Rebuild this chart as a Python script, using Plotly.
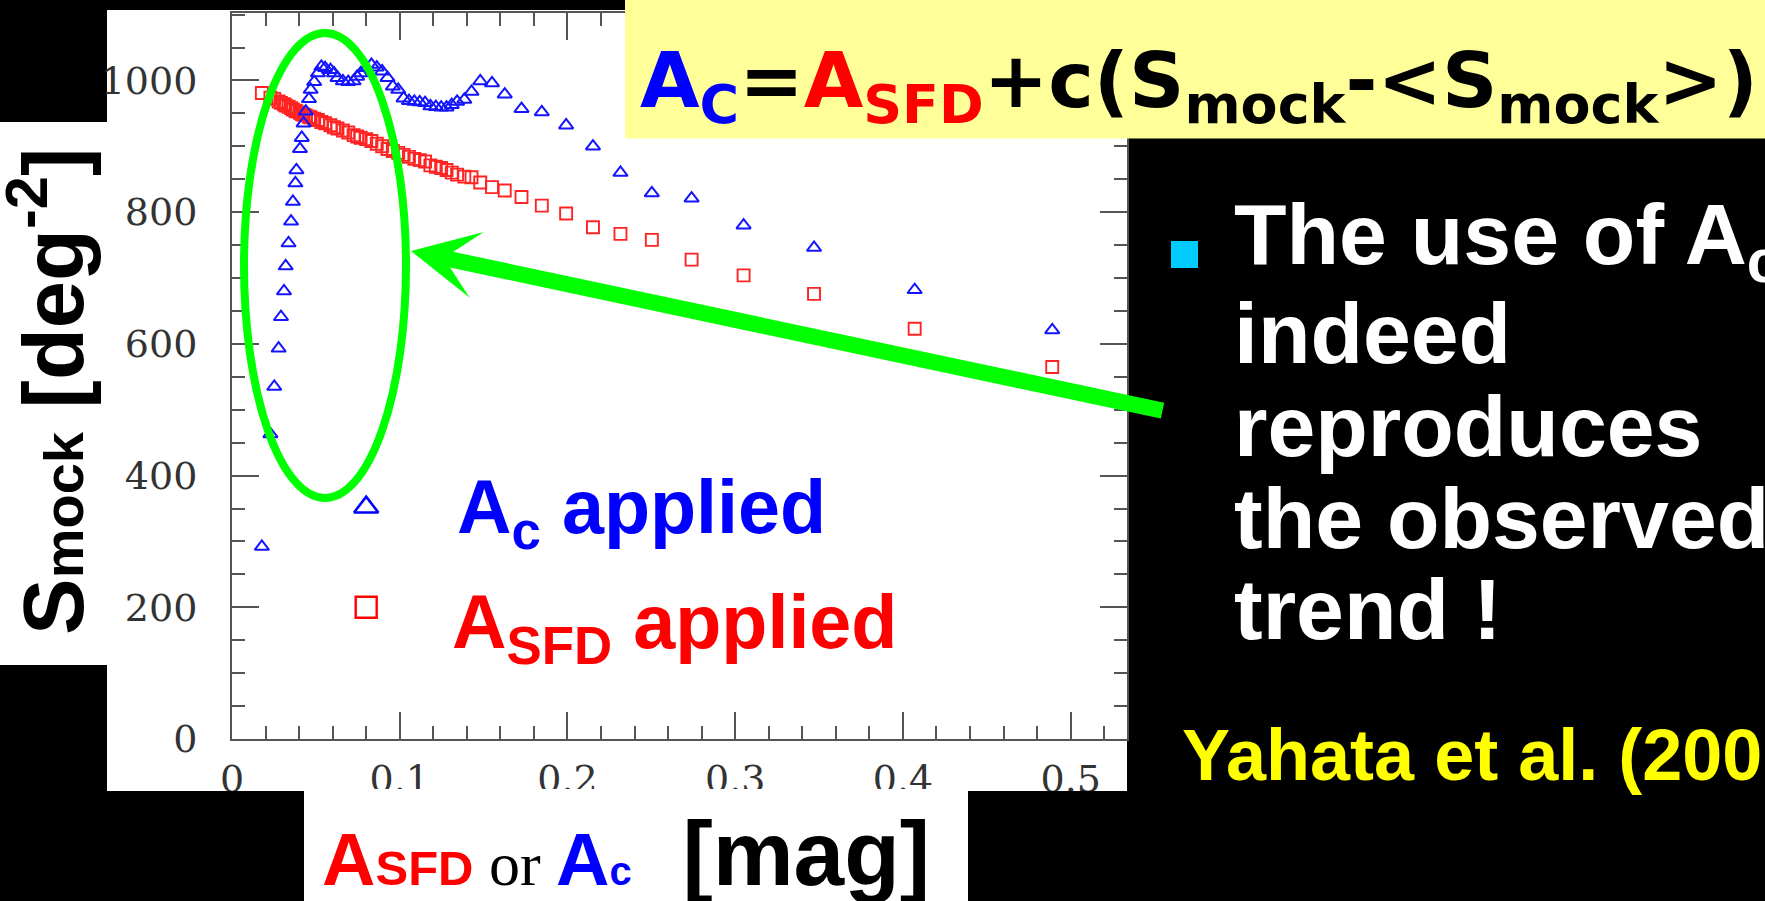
import plotly.graph_objects as go

W, H = 1765, 901

# ---- data ----
a_c = [0.0178, 0.0229, 0.0252, 0.0278, 0.0292, 0.0310, 0.0320, 0.0337, 0.0352, 0.0363,
       0.0378, 0.0384, 0.0405, 0.0416, 0.0427, 0.0440, 0.0459, 0.0469, 0.0490, 0.0512,
       0.0533, 0.0555, 0.0587, 0.0608, 0.0629, 0.0661, 0.0693, 0.0725, 0.0746, 0.0767,
       0.0800, 0.0831, 0.0863, 0.0895, 0.0927, 0.0959, 0.0991, 0.1023, 0.1055, 0.1087,
       0.1119, 0.1151, 0.1183, 0.1215, 0.1247, 0.1279, 0.1310, 0.1342, 0.1385, 0.1428,
       0.1480, 0.1550, 0.1626, 0.1726, 0.1847, 0.1992, 0.2152, 0.2316, 0.2503, 0.2740,
       0.3050, 0.3470, 0.4070, 0.4890]
s_c = [292, 463, 535, 593, 641, 680, 718, 753, 786, 816,
       844, 864, 896, 913, 935, 953, 972, 986, 998, 1011,
       1021, 1019, 1016, 1011, 1004, 999, 998, 999, 1006, 1011,
       1019, 1024, 1020, 1014, 1004, 991, 986, 973, 969, 968,
       967, 966, 961, 960, 959, 959, 963, 968, 971, 983,
       999, 996, 979, 957, 952, 932, 900, 860, 829, 821,
       780, 746, 682, 621]

a_sfd = [0.0178, 0.0229, 0.0252, 0.0278, 0.0292, 0.0310, 0.0320, 0.0337, 0.0352, 0.0363,
         0.0378, 0.0384, 0.0405, 0.0416, 0.0427, 0.0440, 0.0459, 0.0469, 0.0490, 0.0512,
         0.0533, 0.0555, 0.0587, 0.0608, 0.0629, 0.0661, 0.0693, 0.0725, 0.0746, 0.0767,
         0.0800, 0.0831, 0.0863, 0.0895, 0.0927, 0.0959, 0.0991, 0.1023, 0.1055, 0.1087,
         0.1119, 0.1151, 0.1183, 0.1215, 0.1247, 0.1279, 0.1310, 0.1342, 0.1385, 0.1428,
         0.1480, 0.1550, 0.1626, 0.1726, 0.1847, 0.1992, 0.2152, 0.2316, 0.2503, 0.2740,
         0.3050, 0.3470, 0.4070, 0.4890]
s_sfd = [981, 974, 972, 968, 966, 964, 962, 960, 958, 956,
         954, 953, 951, 949, 948, 947, 945, 944, 942, 940,
         937, 935, 932, 929, 927, 924, 921, 917, 915, 913,
         911, 908, 904, 900, 896, 893, 890, 887, 884, 881,
         879, 877, 871, 869, 867, 864, 860, 857, 854, 853,
         845, 838, 833, 823, 810, 798, 777, 767, 758, 728,
         704, 676, 623, 565]

legend_key_x = [0.08]
legend_key_c = [352]
legend_key_sfd = [200]

x_range = [0, 0.5334]
y_range = [0, 1102]

BLUE = "#0000ff"
RED = "#ff0000"
GREEN = "#00ff00"


def px(x):
    return x / W


def py(y):
    return 1 - y / H


fig = go.Figure()
fig.add_trace(go.Scatter(x=a_sfd, y=s_sfd, mode="markers",
                         marker=dict(symbol="square-open", size=12, color="#ff2424",
                                     line=dict(width=1.9)), showlegend=False))
fig.add_trace(go.Scatter(x=a_c, y=s_c, mode="markers",
                         marker=dict(symbol="triangle-up-open", size=12.5, color="#1414ff",
                                     line=dict(width=2.0)), showlegend=False))
fig.add_trace(go.Scatter(x=legend_key_x, y=legend_key_c, mode="markers",
                         marker=dict(symbol="triangle-up-open", size=21, color=BLUE,
                                     line=dict(width=2.6)), showlegend=False))
fig.add_trace(go.Scatter(x=legend_key_x, y=legend_key_sfd, mode="markers",
                         marker=dict(symbol="square-open", size=21, color=RED,
                                     line=dict(width=2.4)), showlegend=False))

shapes = []


def rect(x0, y0, x1, y1, color, layer):
    shapes.append(dict(type="rect", xref="paper", yref="paper",
                       x0=px(x0), x1=px(x1), y0=py(y1), y1=py(y0),
                       fillcolor=color, line=dict(width=0), layer=layer))


rect(107, 10, 1127, 791, "white", "below")
rect(0, 122, 108, 665, "white", "below")
rect(304, 789, 968, 901, "white", "above")
rect(0, 791, 304, 901, "black", "above")
rect(968, 791, 1765, 901, "black", "above")
rect(625, 0, 1765, 138.5, "#ffff99", "above")
rect(1171, 241, 1198, 268, "#00ccff", "above")
shapes.append(dict(type="circle", xref="paper", yref="paper",
                   x0=px(244), x1=px(406), y0=py(498), y1=py(33),
                   line=dict(color=GREEN, width=8), layer="above"))

ann = []
# arrow
tip = (411, 251)
tail = (1164, 411)
ann.append(dict(xref="paper", yref="paper", x=px(tip[0]), y=py(tip[1]), text="",
                showarrow=True, arrowhead=3, arrowsize=0.7, arrowwidth=16,
                arrowcolor=GREEN, ax=tail[0] - tip[0], ay=tail[1] - tip[1], standoff=0))


def text(x, yc, t, size, color, family="Liberation Sans", anchor="left", angle=0):
    ann.append(dict(xref="paper", yref="paper", x=px(x), y=py(yc), text=t,
                    showarrow=False, xanchor=anchor, yanchor="middle", textangle=angle,
                    font=dict(size=size, color=color, family=family)))


text(638, 86,
     '<b><span style="color:#0000ff">A<sub>C</sub></span>=<span style="color:#ff0000">A<sub>SFD</sub></span>'
     '+c(S<sub>mock</sub>-&lt;S<sub>mock</sub>&gt;)</b>', 77, "black", family="DejaVu Sans")

text(455, 512, "<b>A<sub>c</sub> applied</b>", 75.5, BLUE)
text(450, 627, "<b>A<sub>SFD</sub> applied</b>", 75.5, RED)

body = ["The use of A<sub>c</sub>", "indeed", "reproduces", "the observed", "trend !"]
body_y = [241, 333, 426, 518, 609]
for line, yc in zip(body, body_y):
    text(1232, yc, "<b>" + line + "</b>", 86, "white")

text(1180, 755, "<b>Yahata et al. (2007)</b>", 72, "#ffff00")

text(47, 392, '<b>S<span style="font-size:56px">mock</span> [deg<sup>-2</sup>]</b>', 85, "black",
     anchor="center", angle=-90)

text(320, 853,
     '<b><span style="color:#ff0000;font-size:74px">A</span>'
     '<span style="color:#ff0000;font-size:49px">SFD</span></b>'
     '<span style="font-family:Liberation Serif;font-size:62px"> or </span>'
     '<b><span style="color:#0000ff;font-size:74px">A</span>'
     '<span style="color:#0000ff;font-size:40px">c</span>'
     '<span style="font-size:91px">  [mag]</span></b>', 91, "black")

axis_common = dict(showline=True, linecolor="#555", linewidth=2, mirror="ticks",
                   ticks="inside", ticklen=27, tickwidth=1.6, tickcolor="#555",
                   showgrid=False, zeroline=False,
                   tickfont=dict(family="DejaVu Serif", size=38, color="#333"))

fig.update_layout(
    width=W, height=H, autosize=False,
    margin=dict(l=0, r=0, t=0, b=0),
    paper_bgcolor="black", plot_bgcolor="white",
    xaxis=dict(range=x_range, domain=[232 / W, 1126.7 / W], dtick=0.1, tick0=0,
               ticklabelstandoff=5, automargin=False,
               minor=dict(ticks="inside", ticklen=13, tickwidth=1.5, tickcolor="#555",
                          dtick=0.02, showgrid=False),
               **axis_common),
    yaxis=dict(range=y_range, domain=[1 - 739 / H, 1 - 13.3 / H], dtick=200, tick0=0,
               ticklabelstandoff=25, automargin=False,
               minor=dict(ticks="inside", ticklen=13, tickwidth=1.5, tickcolor="#555",
                          dtick=50, showgrid=False),
               **axis_common),
    shapes=shapes, annotations=ann, showlegend=False,
)

fig.write_html("out.html", config={"displayModeBar": False},
               post_script="document.body.style.margin='0';document.body.style.background='black';")
